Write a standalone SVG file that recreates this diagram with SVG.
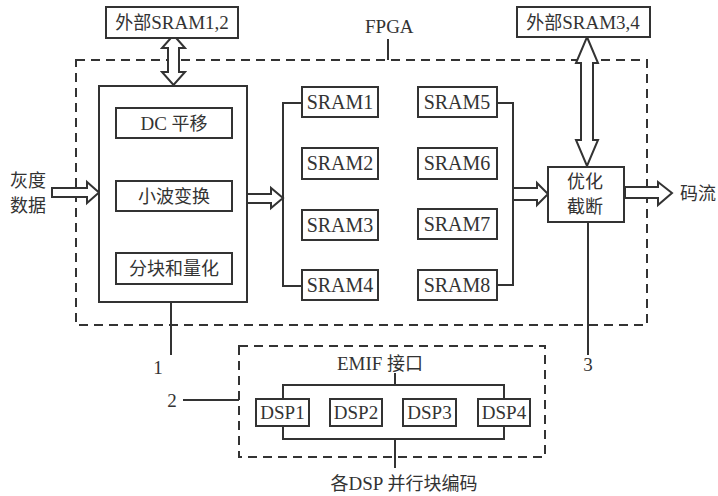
<svg xmlns="http://www.w3.org/2000/svg" width="718" height="496" viewBox="0 0 718 496">
<style>
  .box{fill:#fff;stroke:#333;stroke-width:2}
  .dash{fill:none;stroke:#333;stroke-width:2;stroke-dasharray:9 6}
  .ln{fill:none;stroke:#333;stroke-width:2}
  .arr{fill:#fff;stroke:#333;stroke-width:2;stroke-linejoin:miter}
  text{font-family:"Liberation Serif","Noto Sans CJK SC",serif;font-size:19px;fill:#333}
  .c{text-anchor:middle}
  .zh{font-size:18px;font-family:"Noto Sans CJK SC",sans-serif}
  .lat{font-family:"Liberation Serif",serif;font-size:19px}
  .s{font-size:20px}
</style>
<rect width="718" height="496" fill="#fff"/>
<g id="fpga">
  <rect class="dash" x="76" y="60" width="571" height="265"/>
  <text x="365" y="33">FPGA</text>
  <line class="ln" x1="388" y1="39" x2="388" y2="60"/>
</g>
<g id="emif">
  <rect class="dash" x="239" y="346" width="306" height="111"/>
  <text class="c" x="380" y="370">EMIF <tspan class="zh">接口</tspan></text>
</g>
<g id="connectors">
  <polygon class="arr" points="173.5,35 185,48 179,48 179,72 185,72 173.5,85 162,72 168,72 168,48 162,48"/>
  <polygon class="arr" points="587,37 598,63 593,63 593,140 598,140 587,166 576,140 581,140 581,63 576,63"/>
  <polygon class="arr" points="52,188 87,188 87,182 99,192.5 87,203 87,197 52,197"/>
  <polygon class="arr" points="247,194 271,194 271,188 283,198 271,208 271,203 247,203"/>
  <polygon class="arr" points="513,188 537,188 537,183 548,194 537,205 537,200 513,200"/>
  <polygon class="arr" points="625,187 658,187 658,182 672,193 658,205 658,198 625,198"/>
  <polyline class="ln" points="302,103 283,103 283,286 302,286"/>
  <polyline class="ln" points="497,103 513,103 513,285 497,285"/>
  <line class="ln" x1="171" y1="302" x2="171" y2="355"/>
  <line class="ln" x1="588" y1="222" x2="588" y2="355"/>
  <line class="ln" x1="183" y1="400" x2="239" y2="400"/>
  <line class="ln" x1="395" y1="373" x2="395" y2="385"/>
  <polyline class="ln" points="283,399 283,385 504,385 504,399"/>
  <polyline class="ln" points="283,426 283,439 504,439 504,426"/>
  <line class="ln" x1="395" y1="439" x2="395" y2="468"/>
</g>
<g id="ext12"><rect class="box" x="106" y="7" width="132" height="31"/><text class="c" x="172" y="29"><tspan class="zh">外部</tspan><tspan class="lat">SRAM1,2</tspan></text></g>
<g id="ext34"><rect class="box" x="517" y="7" width="133" height="30"/><text class="c" x="583" y="29"><tspan class="zh">外部</tspan><tspan class="lat">SRAM3,4</tspan></text></g>
<g id="proc"><rect class="box" x="99" y="86" width="148" height="216"/></g>
<g id="dc"><rect class="box" x="116" y="108" width="116" height="30"/><text class="c" x="174" y="130">DC <tspan class="zh">平移</tspan></text></g>
<g id="dwt"><rect class="box" x="116" y="181" width="116" height="30"/><text class="c zh" x="174" y="203">小波变换</text></g>
<g id="quant"><rect class="box" x="116" y="253" width="116" height="31"/><text class="c zh" x="174" y="275">分块和量化</text></g>
<g id="sram1"><rect class="box" x="302" y="87" width="76" height="30"/><text class="c s" x="340" y="109">SRAM1</text></g>
<g id="sram2"><rect class="box" x="302" y="148" width="76" height="31"/><text class="c s" x="340" y="170">SRAM2</text></g>
<g id="sram3"><rect class="box" x="302" y="210" width="76" height="30"/><text class="c s" x="340" y="232">SRAM3</text></g>
<g id="sram4"><rect class="box" x="302" y="270" width="76" height="30"/><text class="c s" x="340" y="292">SRAM4</text></g>
<g id="sram5"><rect class="box" x="418" y="87" width="79" height="30"/><text class="c s" x="457" y="109">SRAM5</text></g>
<g id="sram6"><rect class="box" x="418" y="148" width="79" height="31"/><text class="c s" x="457" y="170">SRAM6</text></g>
<g id="sram7"><rect class="box" x="418" y="209" width="79" height="30"/><text class="c s" x="457" y="231">SRAM7</text></g>
<g id="sram8"><rect class="box" x="418" y="270" width="79" height="30"/><text class="c s" x="457" y="292">SRAM8</text></g>
<g id="opt"><rect class="box" x="548" y="167" width="76" height="55"/><text class="c zh" x="585" y="188">优化</text><text class="c zh" x="585" y="213">截断</text></g>
<g id="dsp1"><rect class="box" x="256" y="399" width="53" height="27"/><text class="c" x="282.5" y="419">DSP1</text></g>
<g id="dsp2"><rect class="box" x="330" y="399" width="52" height="27"/><text class="c" x="356" y="419">DSP2</text></g>
<g id="dsp3"><rect class="box" x="403" y="399" width="53" height="27"/><text class="c" x="429.5" y="419">DSP3</text></g>
<g id="dsp4"><rect class="box" x="478" y="399" width="52" height="27"/><text class="c" x="504" y="419">DSP4</text></g>
<g id="labels">
  <text class="zh" x="10" y="187">灰度</text>
  <text class="zh" x="10" y="212">数据</text>
  <text class="zh" x="680" y="200">码流</text>
  <text class="c" x="158" y="374">1</text>
  <text class="c" x="172" y="407">2</text>
  <text class="c" x="588" y="371">3</text>
  <text class="c" x="404" y="490"><tspan class="zh">各</tspan><tspan class="lat">DSP </tspan><tspan class="zh">并行块编码</tspan></text>
</g>
</svg>
